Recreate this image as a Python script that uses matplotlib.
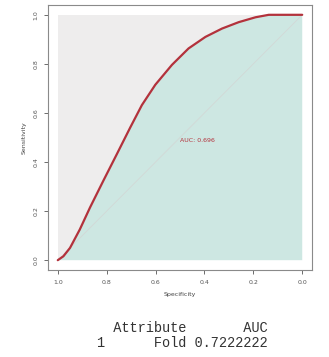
import numpy as np
import matplotlib
matplotlib.use('Agg')
import matplotlib.pyplot as plt

# ROC curve (specificity, sensitivity)
specificity = [1.0, 0.977, 0.95, 0.91, 0.868, 0.813, 0.758, 0.704,
               0.656, 0.601, 0.533, 0.465, 0.396, 0.328, 0.26, 0.191, 0.137, 0.0]
sensitivity = [0.0, 0.016, 0.05, 0.125, 0.215, 0.325, 0.433, 0.54,
               0.632, 0.715, 0.796, 0.863, 0.91, 0.944, 0.97, 0.99, 1.0, 1.0]
auc_label = 'AUC: 0.696'
tick_values = [1.0, 0.8, 0.6, 0.4, 0.2, 0.0]
table_lines = ['  Attribute       AUC', '1      Fold 0.7222222']

GREY_FILL = '#eeeded'
TEAL_FILL = '#cde7e2'
CURVE_RED = '#b3323c'
FRAME = '#8a8a8a'

fig = plt.figure(figsize=(3.29, 3.57), dpi=100)
ax = fig.add_axes([48 / 329, 1 - 270 / 357, 264 / 329, 265 / 357])

# max auc polygon (the whole square) and the auc polygon under the curve
ax.fill([1, 1, 0, 0], [0, 1, 1, 0], color=GREY_FILL, lw=0)
ax.fill(specificity + [0.0, 1.0], sensitivity + [0.0, 0.0], color=TEAL_FILL, lw=0)
ax.plot([1, 0], [0, 1], color='#d2d8d6', lw=0.6)
ax.plot(specificity, sensitivity, color=CURVE_RED, lw=1.6,
        solid_capstyle='round', solid_joinstyle='round')

ax.text(0.5, 0.5, auc_label, ha='left', va='top', fontsize=4.5, color=CURVE_RED)

ax.set_xlim(1.04, -0.04)
ax.set_ylim(-0.04, 1.04)
ax.set_xticks(tick_values)
ax.set_yticks(tick_values)
ax.set_xticklabels(['%.1f' % v for v in tick_values])
ax.set_yticklabels(['%.1f' % v for v in tick_values], rotation=90, va='center')
ax.tick_params(labelsize=4.5, colors='#555555', length=3, width=0.6, pad=4)
for s in ax.spines.values():
    s.set_color(FRAME)
    s.set_linewidth(0.8)
ax.set_xlabel('Specificity', fontsize=4.5, color='#444444', labelpad=5)
ax.set_ylabel('Sensitivity', fontsize=4.5, color='#444444', labelpad=5)

# printed data frame below the plot
for i, line in enumerate(table_lines):
    fig.text(97 / 329, 1 - (328 + 15 * i) / 357, line, family='Liberation Mono',
             fontsize=9.8, color='#333333', ha='left', va='center')

fig.savefig('out.png', dpi=100)
